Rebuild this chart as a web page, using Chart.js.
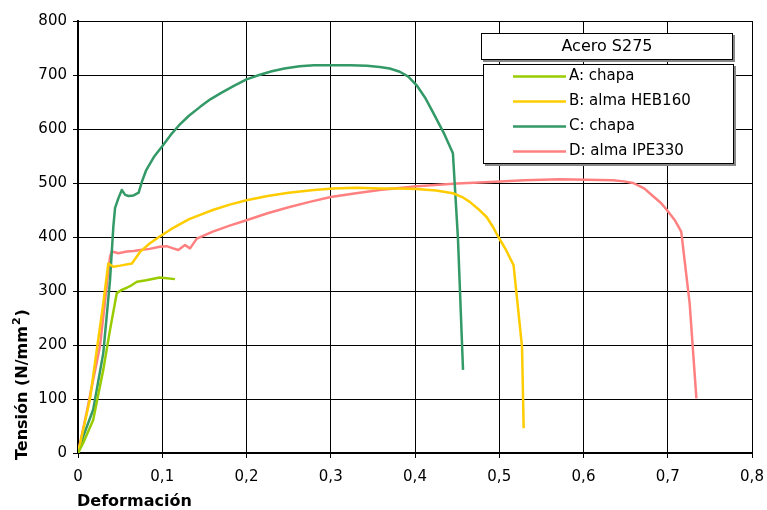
<!DOCTYPE html>
<html>
<head>
<meta charset="utf-8">
<script src="https://cdn.jsdelivr.net/npm/chart.js@4"></script>
<style>
  body { margin: 0; background: #fff; }
  #wrap { width: 767px; height: 510px; }
</style>
</head>
<body>
<div id="wrap"><canvas id="myChart" width="767" height="510"></canvas></div>
<script>
// data
const seriesLabels = ['A: chapa', 'B: alma HEB160', 'C: chapa', 'D: alma IPE330'];
const seriesColors = ['#99CC00', '#FFCC00', '#339966', '#FF8080'];

const aX = [0, 0.006, 0.018, 0.030, 0.038, 0.046, 0.052, 0.058, 0.064, 0.070, 0.081, 0.097, 0.115];
const aY = [0, 18, 61, 154, 228, 296, 302, 306, 311, 317, 320, 325, 322];

const bX = [0, 0.014, 0.030, 0.036, 0.042, 0.050, 0.064, 0.074, 0.085, 0.097, 0.110, 0.120, 0.132, 0.145, 0.160, 0.180, 0.200, 0.225, 0.250, 0.280, 0.303, 0.330, 0.358, 0.380, 0.402, 0.425, 0.445, 0.456, 0.465, 0.475, 0.485, 0.492, 0.499, 0.508, 0.517, 0.527, 0.529];
const bY = [0, 98, 277, 351, 345, 347, 351, 373, 388, 401, 414, 423, 433, 441, 450, 460, 468, 476, 482, 487, 490, 491, 490, 490, 489, 486, 481, 474, 465, 452, 437, 420, 400, 376, 348, 197, 46];

const cX = [0, 0.006, 0.018, 0.030, 0.038, 0.042, 0.044, 0.048, 0.052, 0.056, 0.060, 0.066, 0.072, 0.076, 0.081, 0.090, 0.100, 0.110, 0.120, 0.132, 0.145, 0.157, 0.170, 0.185, 0.200, 0.215, 0.230, 0.245, 0.263, 0.280, 0.303, 0.323, 0.343, 0.358, 0.370, 0.382, 0.392, 0.402, 0.412, 0.422, 0.435, 0.445, 0.451, 0.457];
const cY = [0, 30, 80, 185, 320, 420, 454, 472, 487, 478, 476, 477, 482, 503, 524, 548, 568, 589, 607, 625, 641, 655, 667, 680, 692, 700, 707, 712, 716, 718, 718, 718, 717, 715, 712, 706, 697, 681, 658, 629, 590, 555, 397, 154];

const dX = [0, 0.010, 0.026, 0.038, 0.040, 0.048, 0.058, 0.066, 0.074, 0.085, 0.097, 0.105, 0.113, 0.119, 0.127, 0.133, 0.141, 0.160, 0.180, 0.200, 0.225, 0.250, 0.275, 0.300, 0.330, 0.358, 0.402, 0.450, 0.489, 0.530, 0.572, 0.635, 0.648, 0.659, 0.672, 0.683, 0.692, 0.699, 0.708, 0.716, 0.726, 0.734];
const dY = [0, 73, 197, 363, 373, 370, 373, 374, 376, 378, 382, 383, 379, 376, 385, 379, 397, 410, 421, 431, 444, 455, 465, 474, 481, 487, 494, 499, 502, 505, 507, 505, 503, 500, 490, 475, 463, 450, 432, 410, 277, 101];

const xTicks = [0, 0.1, 0.2, 0.3, 0.4, 0.5, 0.6, 0.7, 0.8];
const yTicks = [0, 100, 200, 300, 400, 500, 600, 700, 800];
const legendTitle = 'Acero S275';
const xTitle = 'Deformación';
const yTitle = ['Tensión (N/mm', '2', ')'];

const pts = (xs, ys) => xs.map((x, i) => ({ x: x, y: ys[i] }));
const allX = [aX, bX, cX, dX];
const allY = [aY, bY, cY, dY];

// setup
const data = {
  datasets: seriesLabels.map((lab, i) => ({
    label: lab,
    data: pts(allX[i], allY[i]),
    borderColor: seriesColors[i],
    backgroundColor: seriesColors[i],
    borderWidth: 2.5,
    pointRadius: 0,
    tension: 0,
    borderJoinStyle: 'round',
    fill: false
  }))
};

const FONT = 'DejaVu Sans';

// titles and boxed legend drawn by hand
const decorations = {
  id: 'decorations',
  afterDraw(chart) {
    const ctx = chart.ctx;
    const area = chart.chartArea;
    ctx.save();
    ctx.fillStyle = '#000';
    ctx.font = 'bold 16px "' + FONT + '"';
    ctx.textAlign = 'left';
    ctx.textBaseline = 'middle';
    ctx.fillText(xTitle, area.left - 1, 502);
    // rotated y title with a real superscript
    ctx.translate(27, 460);
    ctx.rotate(-Math.PI / 2);
    ctx.textBaseline = 'alphabetic';
    ctx.fillText(yTitle[0], 0, 0);
    let w = ctx.measureText(yTitle[0]).width;
    ctx.font = 'bold 11px "' + FONT + '"';
    ctx.fillText(yTitle[1], w + 1, -7);
    w += ctx.measureText(yTitle[1]).width + 2;
    ctx.font = 'bold 16px "' + FONT + '"';
    ctx.fillText(yTitle[2], w, 0);
    ctx.restore();

    ctx.save();
    const box = (x, y, w, h) => {
      ctx.fillStyle = '#888';
      ctx.fillRect(x + 2, y + 2, w, h);
      ctx.fillStyle = '#fff';
      ctx.fillRect(x, y, w, h);
      ctx.strokeStyle = '#000';
      ctx.lineWidth = 1;
      ctx.strokeRect(x + 0.5, y + 0.5, w - 1, h - 1);
    };
    box(481, 33, 252, 27);
    ctx.fillStyle = '#000';
    ctx.font = '16px "' + FONT + '"';
    ctx.textAlign = 'center';
    ctx.textBaseline = 'middle';
    ctx.fillText(legendTitle, 607, 47);

    box(483, 64, 251, 100);
    ctx.font = '15px "' + FONT + '"';
    ctx.textAlign = 'left';
    chart.data.datasets.forEach((ds, i) => {
      const y = 76.5 + i * 25;
      ctx.strokeStyle = ds.borderColor;
      ctx.lineWidth = 2.5;
      ctx.beginPath();
      ctx.moveTo(513, y);
      ctx.lineTo(566, y);
      ctx.stroke();
      ctx.fillStyle = '#000';
      ctx.fillText(ds.label, 569, y);
    });
    ctx.restore();
  }
};

// config
const config = {
  type: 'line',
  data,
  options: {
    responsive: false,
    animation: false,
    layout: { padding: { top: 21, right: 15, left: 0, bottom: 0 } },
    plugins: {
      legend: { display: false },
      tooltip: { enabled: false }
    },
    scales: {
      x: {
        type: 'linear',
        min: 0,
        max: 0.8,
        afterBuildTicks: s => { s.ticks = xTicks.map(v => ({ value: v })); },
        afterFit: s => { s.height = 57; s.paddingLeft = 0; s.paddingRight = 0; },
        grid: { color: '#000', lineWidth: 1, tickLength: 5, tickColor: '#000' },
        border: { color: '#000', width: 2 },
        ticks: {
          color: '#000',
          padding: 10,
          font: { family: FONT, size: 15 },
          callback: v => v === 0 ? '0' : v.toFixed(1).replace('.', ',')
        }
      },
      y: {
        min: 0,
        max: 800,
        afterBuildTicks: s => { s.ticks = yTicks.map(v => ({ value: v })); },
        afterFit: s => { s.width = 78; },
        grid: { color: '#000', lineWidth: 1, tickLength: 5, tickColor: '#000' },
        border: { color: '#000', width: 2 },
        ticks: {
          color: '#000',
          padding: 6,
          font: { family: FONT, size: 15 }
        }
      }
    }
  },
  plugins: [decorations]
};

// render init block
const myChart = new Chart(document.getElementById('myChart'), config);
</script>
</body>
</html>
